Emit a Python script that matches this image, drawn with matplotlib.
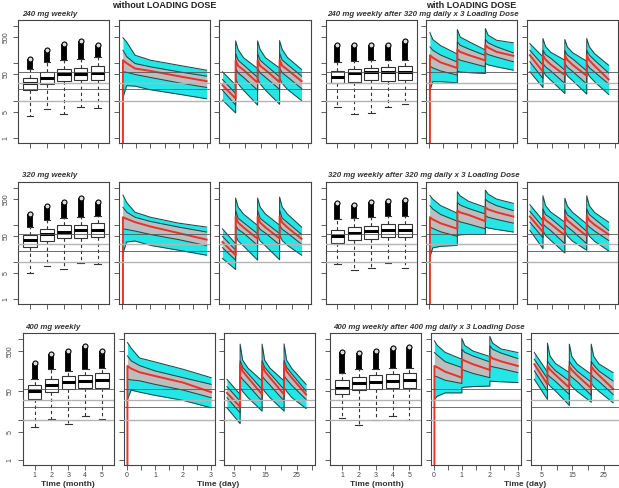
import matplotlib
matplotlib.use("Agg")
import matplotlib.pyplot as plt
import numpy as np

plt.rcParams["font.family"] = ["Liberation Sans", "DejaVu Sans"]

W, H = 619, 488

# horizontal reference concentrations
ref_levels = [10, 20, 30, 57]
ref_colors = ["#b4b4b4", "#555555", "#b4b4b4", "#555555"]
ref_widths = [1.0, 0.6, 1.0, 0.6]

# time grids (months / days)
t_month = [0, 0.02, 0.15, 0.45, 1.0, 2.0, 3.0]
t_month_ld = [0, 0.02, 0.12, 0.4, 1.0, 1.0, 1.1, 1.4, 2.0, 2.0, 2.1, 2.4, 3.0]
t_day = [2.8, 7, 7, 7.8, 9.5, 14, 14, 14.8, 16.5, 21, 21, 21.8, 23.5, 28]

box_pos = [1, 2, 3, 4, 5]
month_ticks = [0, 0.5, 1, 1.5, 2, 2.5, 3]
month_labels = ["0", "", "1", "", "2", "", "3"]
day_ticks = [5, 10, 15, 20, 25, 30]
day_labels = ["5", "", "15", "", "25", ""]
y_ticks = [1, 5, 10, 50, 100, 500, 1000]
y_labels = ["1", "5", "", "50", "", "500", ""]

titles_noLD = ["240 mg weekly", "320 mg weekly", "400 mg weekly"]
titles_LD = ["240 mg weekly after 320 mg daily x 3 Loading Dose",
             "320 mg weekly after 320 mg daily x 3 Loading Dose",
             "400 mg weekly after 400 mg daily x 3 Loading Dose"]

# box stats: lower whisker, q1, median, q3, upper whisker, highest outlier
box_240 = [[3.9, 5.8, 4.5, 6.9, 6.2], [19.1, 27.5, 33, 35, 35], [28.7, 40.6, 50, 53, 56],
           [40.6, 58.7, 72, 75, 83], [72, 109, 125, 133, 147], [133, 231, 321, 394, 302]]
box_240_ld = [[6.9, 4.3, 4.7, 6.9, 7.9], [28.7, 32, 35, 34, 35], [41.5, 55, 59, 59, 57],
              [61, 69, 75, 80, 83], [109, 115, 120, 120, 120], [315, 315, 302, 302, 386]]
box_320 = [[5.2, 7.7, 6.3, 9.5, 8.6], [25.4, 36.7, 44, 45, 47], [38, 55, 66, 71, 74],
           [52, 78, 96, 100, 111], [87, 131, 154, 160, 177], [196, 328, 402, 525, 402]]
box_320_ld = [[8.6, 6.1, 7.1, 9.5, 7.1], [32.5, 40, 42, 47, 47], [49, 61, 68, 74, 74],
              [71, 87, 92, 106, 106], [145, 154, 160, 177, 177], [378, 349, 402, 446, 464]]
box_400 = [[6.6, 10.4, 7.9, 12.1, 10.6], [31.6, 48, 56, 60, 62], [51, 72, 86, 91, 96],
           [71, 104, 121, 126, 141], [100, 178, 162, 185, 196], [261, 422, 511, 681, 511]]
box_400_ld = [[11, 7.5, 9.6, 12.1, 9.6], [42, 53, 56, 62, 60], [62, 83, 86, 91, 94],
              [94, 114, 126, 139, 141], [147, 178, 178, 196, 196], [482, 464, 511, 585, 619]]

# percentile curves: 5th, 25th, 50th, 75th, 95th
mon_240 = [[0, 12, 25, 24.4, 19.5, 14.9, 11.2],
           [0, 59, 57, 50, 41.5, 30, 22.5],
           [0, 120, 100, 72, 62, 45, 33],
           [0, 222, 150, 98, 80, 59, 45],
           [0, 480, 370, 163, 120, 88, 65]]
day_240 = [[10.3, 4.7, 39, 28, 19, 7.6, 39, 28, 19, 8, 40, 29, 20, 10],
           [19, 7.6, 72, 55, 42, 19, 72, 55, 42, 20, 74, 56, 43, 21],
           [26, 11.4, 120, 85, 66, 30, 120, 85, 66, 31, 122, 86, 67, 33],
           [36.7, 15.5, 181, 120, 90, 41.5, 181, 120, 90, 43, 185, 122, 92, 45],
           [59, 26, 394, 230, 140, 72, 394, 230, 140, 74, 400, 235, 142, 68]]
monld_240 = [[0, 19, 32, 32, 30, 61, 58, 56, 53, 98, 90, 80, 65],
             [0, 83, 75, 62, 48, 133, 120, 105, 80, 189, 170, 145, 109],
             [0, 163, 140, 105, 74, 231, 200, 165, 118, 302, 260, 200, 157],
             [0, 273, 222, 165, 107, 370, 300, 240, 160, 428, 350, 273, 189],
             [0, 657, 430, 295, 175, 790, 500, 380, 225, 840, 558, 410, 349]]
dayld_240 = [[59, 22.4, 65, 48, 35, 15.5, 62, 46, 34, 15, 62, 45, 32, 14.6],
             [109, 39, 98, 80, 62, 28.7, 98, 78, 60, 28, 98, 76, 58, 28],
             [163, 59, 163, 125, 92, 48, 160, 122, 90, 46, 163, 120, 85, 36.7],
             [222, 88, 222, 170, 135, 65, 215, 165, 130, 62, 222, 165, 120, 55],
             [334, 147, 455, 280, 195, 120, 428, 270, 190, 113, 455, 275, 180, 88]]

mon_320 = [[0, 16.9, 34.5, 36.7, 28, 20.7, 15.2],
           [0, 78, 75, 68, 55, 40, 27.5],
           [0, 160, 145, 118, 90, 60, 40],
           [0, 296, 220, 160, 123, 87, 64],
           [0, 631, 402, 218, 160, 111, 87]]
day_320 = [[12.4, 6.3, 52, 37, 27, 11.2, 52, 37, 27, 11.5, 54, 38, 28, 15.2],
           [24.4, 11.2, 96, 75, 60, 28, 96, 75, 60, 29, 98, 76, 60, 30],
           [34.5, 15.2, 167, 115, 85, 42, 167, 115, 85, 43, 170, 116, 85, 42],
           [49, 20.7, 241, 150, 115, 57.5, 241, 150, 115, 58, 250, 152, 115, 55],
           [78, 31, 525, 300, 195, 96, 525, 300, 195, 98, 558, 305, 195, 87]]
monld_320 = [[0, 13.7, 24, 26.4, 28, 52, 54, 55, 55, 87, 82, 75, 64],
             [0, 87, 80, 65, 49, 131, 120, 105, 78, 177, 160, 140, 111],
             [0, 160, 140, 110, 78, 241, 215, 185, 125, 296, 260, 218, 167],
             [0, 328, 267, 190, 125, 402, 340, 275, 196, 493, 420, 328, 241],
             [0, 618, 493, 330, 205, 774, 600, 430, 296, 857, 671, 493, 378]]
dayld_320 = [[71, 22.9, 71, 52, 38, 17.5, 70, 50, 36, 20.7, 71, 50, 36, 19.9],
             [118, 45, 106, 90, 70, 31, 104, 88, 68, 31, 106, 88, 68, 38],
             [167, 64, 177, 135, 105, 52, 175, 132, 100, 50, 177, 133, 100, 55],
             [231, 87, 267, 190, 150, 71, 260, 185, 145, 66, 267, 190, 145, 71],
             [349, 131, 606, 330, 220, 118, 520, 320, 215, 106, 606, 330, 215, 118]]

mon_400 = [[0, 31.6, 54, 48, 40, 30, 19.6],
           [0, 100, 97, 92, 75, 54, 35],
           [0, 215, 185, 150, 121, 83, 48],
           [0, 383, 290, 220, 162, 110, 75],
           [0, 826, 600, 340, 271, 178, 110]]
day_400 = [[19.6, 7.9, 62, 50, 35, 16.2, 62, 50, 35, 16.2, 63, 50, 35, 18.8],
           [35, 14.7, 121, 100, 72, 28.7, 121, 100, 72, 29, 123, 100, 70, 31.6],
           [46, 20.7, 237, 160, 110, 42, 237, 160, 110, 42, 240, 160, 108, 42],
           [66, 28.7, 287, 200, 140, 56, 287, 200, 140, 56, 290, 200, 135, 51],
           [100, 42, 750, 300, 190, 91, 750, 300, 190, 91, 760, 300, 185, 75]]
monld_400 = [[0, 31.6, 38, 46, 46, 62, 64, 66, 68, 91, 89, 87, 83],
             [0, 121, 115, 95, 79, 178, 165, 140, 110, 215, 205, 185, 147],
             [0, 215, 200, 155, 110, 316, 290, 237, 171, 383, 330, 280, 215],
             [0, 464, 400, 275, 196, 562, 470, 380, 271, 681, 560, 450, 329],
             [0, 908, 700, 470, 316, 1039, 700, 505, 369, 1167, 794, 570, 464]]
dayld_400 = [[100, 31.6, 83, 68, 52, 22.4, 80, 66, 50, 27, 80, 66, 50, 26],
             [162, 51, 133, 115, 90, 42, 130, 112, 88, 40, 130, 112, 88, 42],
             [237, 75, 215, 175, 130, 62, 210, 170, 125, 60, 210, 170, 125, 58],
             [316, 104, 287, 230, 165, 91, 280, 225, 160, 85, 280, 225, 160, 91],
             [464, 152, 794, 383, 250, 147, 750, 370, 240, 133, 750, 370, 240, 147]]

CYAN = "#25e6e6"
BAND = "#bdbdbd"
EDGE = "#224848"
RED = "#e8322a"
AX = "#444444"

rows_y = [(20, 143), (182, 304), (333, 465)]
cols_x = [(18.3, 109.3), (119, 210), (219.3, 311), (325.7, 416.7), (426, 516.7), (526.7, 618)]
row_shift = [0, 0, 4.5]


def draw_boxes(ax, st):
    stats = [dict(whislo=a, q1=b, med=c, q3=d, whishi=e, fliers=[])
             for a, b, c, d, e in zip(*st[:5])]
    ax.bxp(stats, positions=box_pos, widths=0.8, patch_artist=True, showfliers=False,
           manage_ticks=False, capwidths=0.4,
           boxprops=dict(facecolor="white", edgecolor="#333333", lw=0.8),
           medianprops=dict(color="black", lw=2.2),
           whiskerprops=dict(color="#333333", lw=0.8, ls=(0, (3, 2.5))),
           capprops=dict(color="#333333", lw=0.8))
    # dense outliers pile up into a solid column topped by open circles
    ax.vlines(box_pos, st[4], st[5], color="black", lw=4.2, zorder=4)
    ax.plot(box_pos, st[5], "o", ms=3.6, mfc="#dddddd", mec="black", mew=0.8, zorder=5)
    ax.set_xlim(0.3, 5.7)
    ax.set_xticks(box_pos)
    ax.set_xticklabels([str(p) for p in box_pos])


def draw_band(ax, t, q):
    t = np.asarray(t, float)
    p05, p25, p50, p75, p95 = (np.asarray(v, float) for v in q)
    m = p95 > 0
    ax.fill_between(t[m], p05[m], p95[m], color=CYAN, lw=0)
    ax.fill_between(t[m], p25[m], p75[m], color=BAND, lw=0)
    for v in (p05, p25, p75, p95):
        ax.plot(t[m], v[m], color=EDGE, lw=0.75)
    ax.plot(t, p50, color=RED, lw=1.4)


fig = plt.figure(figsize=(W / 100, H / 100), dpi=100)

rows = [
    (box_240, mon_240, day_240, box_240_ld, monld_240, dayld_240),
    (box_320, mon_320, day_320, box_320_ld, monld_320, dayld_320),
    (box_400, mon_400, day_400, box_400_ld, monld_400, dayld_400),
]
kinds = ["box", "month", "day", "box", "month_ld", "day"]

for r, panels in enumerate(rows):
    y0, y1 = rows_y[r]
    for c, (kind, data) in enumerate(zip(kinds, panels)):
        x0, x1 = cols_x[c]
        x0 += row_shift[r]
        x1 += row_shift[r]
        ax = fig.add_axes([x0 / W, 1 - y1 / H, (x1 - x0) / W, (y1 - y0) / H])
        ax.set_yscale("log")
        if kind == "box":
            draw_boxes(ax, data)
        elif kind == "month":
            draw_band(ax, t_month, data)
        elif kind == "month_ld":
            draw_band(ax, t_month_ld, data)
        else:
            draw_band(ax, t_day, data)
        if kind in ("month", "month_ld"):
            ax.set_xlim(-0.12, 3.12)
            ax.set_xticks(month_ticks)
            ax.set_xticklabels(month_labels)
        elif kind == "day":
            ax.set_xlim(1.8, 31)
            ax.set_xticks(day_ticks)
            ax.set_xticklabels(day_labels)
        for lev, col, lw in zip(ref_levels, ref_colors, ref_widths):
            ax.axhline(lev, color=col, lw=lw, zorder=6)
        ax.set_ylim(0.74, 1420)
        ax.set_yticks(y_ticks)
        ax.set_yticklabels(y_labels, rotation=90, va="center")
        ax.minorticks_off()
        ax.tick_params(length=3.5, width=0.6, color=AX, labelsize=5, labelcolor=AX)
        ax.tick_params(axis="y", pad=3)
        ax.tick_params(axis="x", pad=1.5)
        if c != 0:
            ax.tick_params(labelleft=False)
        if r != 2:
            ax.tick_params(labelbottom=False)
        for s in ax.spines.values():
            s.set_color(AX)
            s.set_linewidth(0.8)

# headings
fig.text(164 / W, 1 - 5.5 / H, "without LOADING DOSE", ha="center", va="center",
         fontsize=6.5, fontweight="bold", color="#222222")
fig.text(471 / W, 1 - 5.5 / H, "with LOADING DOSE", ha="center", va="center",
         fontsize=6.5, fontweight="bold", color="#222222")

sub_y = [15, 175.7, 327.3]
sub_x_left = [21.7, 22, 25]
sub_x_right = [327.3, 328, 333.3]
for r in range(3):
    fig.text(sub_x_left[r] / W, 1 - sub_y[r] / H, titles_noLD[r], ha="left", va="center",
             fontsize=5.7, fontweight="bold", style="italic", color="#333333")
    fig.text(sub_x_right[r] / W, 1 - sub_y[r] / H, titles_LD[r], ha="left", va="center",
             fontsize=5.7, fontweight="bold", style="italic", color="#333333")

for x, lab in [(67.5, "Time (month)"), (218, "Time (day)"),
               (377, "Time (month)"), (524.7, "Time (day)")]:
    fig.text(x / W, 1 - 484 / H, lab, ha="center", va="center",
             fontsize=6, fontweight="bold", color="#333333")

fig.savefig("out.png", dpi=100)
